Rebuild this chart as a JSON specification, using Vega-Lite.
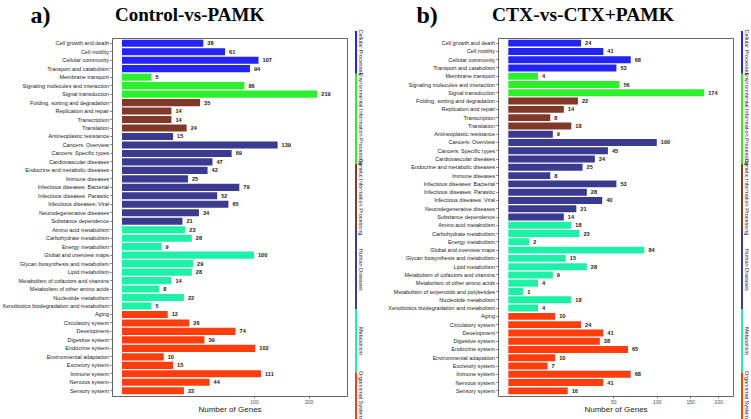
{
  "$schema": "https://vega.github.io/schema/vega-lite/v6.json",
  "background": "white",
  "padding": {"left": 1, "top": 2, "right": 0, "bottom": 0},
  "config": {
    "font": "Liberation Sans",
    "view": {"stroke": "#666666", "strokeWidth": 1},
    "axis": {"grid": false, "domain": false}
  },
  "datasets": {
    "genes": [
      {"panel": "a", "class": "Cellular Processes", "term": "Cell growth and death", "count": 38},
      {"panel": "a", "class": "Cellular Processes", "term": "Cell motility", "count": 61},
      {"panel": "a", "class": "Cellular Processes", "term": "Cellular community", "count": 107},
      {"panel": "a", "class": "Cellular Processes", "term": "Transport and catabolism", "count": 94},
      {"panel": "a", "class": "Environmental Information Processing", "term": "Membrane transport", "count": 5},
      {"panel": "a", "class": "Environmental Information Processing", "term": "Signaling molecules and interaction", "count": 86},
      {"panel": "a", "class": "Environmental Information Processing", "term": "Signal transduction", "count": 219},
      {"panel": "a", "class": "Genetic Information Processing", "term": "Folding, sorting and degradation", "count": 35},
      {"panel": "a", "class": "Genetic Information Processing", "term": "Replication and repair", "count": 14},
      {"panel": "a", "class": "Genetic Information Processing", "term": "Transcription", "count": 14},
      {"panel": "a", "class": "Genetic Information Processing", "term": "Translation", "count": 24},
      {"panel": "a", "class": "Human Diseases", "term": "Antineoplastic resistance", "count": 15},
      {"panel": "a", "class": "Human Diseases", "term": "Cancers: Overview", "count": 139},
      {"panel": "a", "class": "Human Diseases", "term": "Cancers: Specific types", "count": 69},
      {"panel": "a", "class": "Human Diseases", "term": "Cardiovascular diseases", "count": 47},
      {"panel": "a", "class": "Human Diseases", "term": "Endocrine and metabolic diseases", "count": 42},
      {"panel": "a", "class": "Human Diseases", "term": "Immune diseases", "count": 25},
      {"panel": "a", "class": "Human Diseases", "term": "Infectious diseases: Bacterial", "count": 79},
      {"panel": "a", "class": "Human Diseases", "term": "Infectious diseases: Parasitic", "count": 52},
      {"panel": "a", "class": "Human Diseases", "term": "Infectious diseases: Viral", "count": 65},
      {"panel": "a", "class": "Human Diseases", "term": "Neurodegenerative diseases", "count": 34},
      {"panel": "a", "class": "Human Diseases", "term": "Substance dependence", "count": 21},
      {"panel": "a", "class": "Metabolism", "term": "Amino acid metabolism", "count": 23},
      {"panel": "a", "class": "Metabolism", "term": "Carbohydrate metabolism", "count": 28},
      {"panel": "a", "class": "Metabolism", "term": "Energy metabolism", "count": 9},
      {"panel": "a", "class": "Metabolism", "term": "Global and overview maps", "count": 100},
      {"panel": "a", "class": "Metabolism", "term": "Glycan biosynthesis and metabolism", "count": 29},
      {"panel": "a", "class": "Metabolism", "term": "Lipid metabolism", "count": 28},
      {"panel": "a", "class": "Metabolism", "term": "Metabolism of cofactors and vitamins", "count": 14},
      {"panel": "a", "class": "Metabolism", "term": "Metabolism of other amino acids", "count": 8},
      {"panel": "a", "class": "Metabolism", "term": "Nucleotide metabolism", "count": 22},
      {"panel": "a", "class": "Metabolism", "term": "Xenobiotics biodegradation and metabolism", "count": 5},
      {"panel": "a", "class": "Organismal Systems", "term": "Aging", "count": 12},
      {"panel": "a", "class": "Organismal Systems", "term": "Circulatory system", "count": 26},
      {"panel": "a", "class": "Organismal Systems", "term": "Development", "count": 74},
      {"panel": "a", "class": "Organismal Systems", "term": "Digestive system", "count": 39},
      {"panel": "a", "class": "Organismal Systems", "term": "Endocrine system", "count": 102},
      {"panel": "a", "class": "Organismal Systems", "term": "Environmental adaptation", "count": 10},
      {"panel": "a", "class": "Organismal Systems", "term": "Excretory system", "count": 15},
      {"panel": "a", "class": "Organismal Systems", "term": "Immune system", "count": 111},
      {"panel": "a", "class": "Organismal Systems", "term": "Nervous system", "count": 44},
      {"panel": "a", "class": "Organismal Systems", "term": "Sensory system", "count": 22},
      {"panel": "b", "class": "Cellular Processes", "term": "Cell growth and death", "count": 24},
      {"panel": "b", "class": "Cellular Processes", "term": "Cell motility", "count": 41},
      {"panel": "b", "class": "Cellular Processes", "term": "Cellular community", "count": 68},
      {"panel": "b", "class": "Cellular Processes", "term": "Transport and catabolism", "count": 53},
      {"panel": "b", "class": "Environmental Information Processing", "term": "Membrane transport", "count": 4},
      {"panel": "b", "class": "Environmental Information Processing", "term": "Signaling molecules and interaction", "count": 56},
      {"panel": "b", "class": "Environmental Information Processing", "term": "Signal transduction", "count": 174},
      {"panel": "b", "class": "Genetic Information Processing", "term": "Folding, sorting and degradation", "count": 22},
      {"panel": "b", "class": "Genetic Information Processing", "term": "Replication and repair", "count": 14},
      {"panel": "b", "class": "Genetic Information Processing", "term": "Transcription", "count": 8},
      {"panel": "b", "class": "Genetic Information Processing", "term": "Translation", "count": 18},
      {"panel": "b", "class": "Human Diseases", "term": "Antineoplastic resistance", "count": 9},
      {"panel": "b", "class": "Human Diseases", "term": "Cancers: Overview", "count": 100},
      {"panel": "b", "class": "Human Diseases", "term": "Cancers: Specific types", "count": 45},
      {"panel": "b", "class": "Human Diseases", "term": "Cardiovascular diseases", "count": 34},
      {"panel": "b", "class": "Human Diseases", "term": "Endocrine and metabolic diseases", "count": 25},
      {"panel": "b", "class": "Human Diseases", "term": "Immune diseases", "count": 8},
      {"panel": "b", "class": "Human Diseases", "term": "Infectious diseases: Bacterial", "count": 53},
      {"panel": "b", "class": "Human Diseases", "term": "Infectious diseases: Parasitic", "count": 28},
      {"panel": "b", "class": "Human Diseases", "term": "Infectious diseases: Viral", "count": 40},
      {"panel": "b", "class": "Human Diseases", "term": "Neurodegenerative diseases", "count": 21},
      {"panel": "b", "class": "Human Diseases", "term": "Substance dependence", "count": 14},
      {"panel": "b", "class": "Metabolism", "term": "Amino acid metabolism", "count": 18},
      {"panel": "b", "class": "Metabolism", "term": "Carbohydrate metabolism", "count": 23},
      {"panel": "b", "class": "Metabolism", "term": "Energy metabolism", "count": 2},
      {"panel": "b", "class": "Metabolism", "term": "Global and overview maps", "count": 84},
      {"panel": "b", "class": "Metabolism", "term": "Glycan biosynthesis and metabolism", "count": 15},
      {"panel": "b", "class": "Metabolism", "term": "Lipid metabolism", "count": 28},
      {"panel": "b", "class": "Metabolism", "term": "Metabolism of cofactors and vitamins", "count": 9},
      {"panel": "b", "class": "Metabolism", "term": "Metabolism of other amino acids", "count": 4},
      {"panel": "b", "class": "Metabolism", "term": "Metabolism of terpenoids and polyketides", "count": 1},
      {"panel": "b", "class": "Metabolism", "term": "Nucleotide metabolism", "count": 18},
      {"panel": "b", "class": "Metabolism", "term": "Xenobiotics biodegradation and metabolism", "count": 4},
      {"panel": "b", "class": "Organismal Systems", "term": "Aging", "count": 10},
      {"panel": "b", "class": "Organismal Systems", "term": "Circulatory system", "count": 24},
      {"panel": "b", "class": "Organismal Systems", "term": "Development", "count": 41},
      {"panel": "b", "class": "Organismal Systems", "term": "Digestive system", "count": 38},
      {"panel": "b", "class": "Organismal Systems", "term": "Endocrine system", "count": 65},
      {"panel": "b", "class": "Organismal Systems", "term": "Environmental adaptation", "count": 10},
      {"panel": "b", "class": "Organismal Systems", "term": "Excretory system", "count": 7},
      {"panel": "b", "class": "Organismal Systems", "term": "Immune system", "count": 68},
      {"panel": "b", "class": "Organismal Systems", "term": "Nervous system", "count": 41},
      {"panel": "b", "class": "Organismal Systems", "term": "Sensory system", "count": 16}
    ],
    "strip": [
      {"class": "Cellular Processes", "span": 42.7},
      {"class": "Environmental Information Processing", "span": 90.3},
      {"class": "Genetic Information Processing", "span": 66},
      {"class": "Human Diseases", "span": 79.5},
      {"class": "Metabolism", "span": 63},
      {"class": "Organismal Systems", "span": 47.5}
    ]
  },
  "spacing": 24,
  "hconcat": [
    {
      "spacing": 8,
      "bounds": "flush",
      "hconcat": [
        {
          "width": 235,
          "height": 358,
          "title": {"text": "Control-vs-PAMK", "anchor": "start", "frame": "group", "dx": 3, "font": "Liberation Serif", "fontWeight": "bold", "fontSize": 19, "baseline": "alphabetic", "offset": -37, "color": "#000000"},
          "data": {"name": "genes"},
          "transform": [{"filter": {"field": "panel", "equal": "a"}}],
          "encoding": {
            "y": {"field": "term", "type": "nominal", "sort": null,
              "scale": {"paddingInner": 0.16, "paddingOuter": 0.2},
              "axis": {"title": "a)", "titleAngle": 0, "titleX": -82, "titleY": -16, "titleAlign": "left", "titleBaseline": "alphabetic", "titleFont": "Liberation Serif", "titleFontWeight": "bold", "titleFontSize": 24, "titleColor": "#000000",
                "labelFontSize": 5.5, "labelColor": "#1a1a1a", "labelPadding": 1, "tickSize": 2.5, "tickColor": "#444444", "tickWidth": 0.6, "labelLimit": 0}},
            "x": {"field": "count", "type": "quantitative",
              "scale": {"type": "sqrt", "domain": [-0.574, 290.6], "zero": false, "nice": false},
              "axis": {"values": [100, 200], "title": "Number of Genes", "titleFontSize": 8, "titleFontWeight": "normal", "titleColor": "#222222", "titlePadding": 1,
                "labelFontSize": 5, "labelColor": "#4d4d4d", "labelPadding": 1, "tickSize": 2, "tickColor": "#444444", "tickWidth": 0.6}}
          },
          "layer": [
            {"mark": {"type": "bar"},
              "encoding": {"color": {"field": "class", "type": "nominal", "legend": null,
                "scale": {"domain": ["Cellular Processes", "Environmental Information Processing", "Genetic Information Processing", "Human Diseases", "Metabolism", "Organismal Systems"],
                  "range": ["#2323F2", "#2DF02D", "#823828", "#3A3A8F", "#1EF0A8", "#FF3D0D"]}}}},
            {"mark": {"type": "text", "align": "left", "baseline": "middle", "dx": 4, "fontSize": 5.6, "fontWeight": "bold", "color": "#1a1a1a"},
              "encoding": {"text": {"field": "count", "type": "quantitative"}}}
          ]
        },
        {
          "width": 2,
          "height": 358,
          "view": {"stroke": null},
          "data": {"name": "strip"},
          "layer": [
            {"mark": {"type": "bar", "width": 2},
              "encoding": {
                "y": {"field": "span", "type": "quantitative", "stack": "zero", "scale": {"domain": [24, 382], "nice": false, "zero": false}, "axis": null},
                "order": {"field": "class", "sort": "descending"},
                "color": {"field": "class", "type": "nominal", "legend": null,
                  "scale": {"domain": ["Cellular Processes", "Environmental Information Processing", "Genetic Information Processing", "Human Diseases", "Metabolism", "Organismal Systems"],
                    "range": ["#2323F2", "#2DF02D", "#823828", "#3A3A8F", "#1EF0A8", "#FF3D0D"]}}}},
            {"mark": {"type": "text", "angle": 90, "align": "center", "baseline": "bottom", "dy": -2, "fontSize": 5.5, "color": "#222222"},
              "encoding": {
                "y": {"field": "span", "type": "quantitative", "stack": "zero", "bandPosition": 0.5, "axis": null},
                "order": {"field": "class", "sort": "descending"},
                "detail": {"field": "class", "type": "nominal"},
                "text": {"field": "class", "type": "nominal"}}}
          ]
        }
      ]
    },
    {
      "spacing": 8,
      "bounds": "flush",
      "hconcat": [
        {
          "width": 235,
          "height": 358,
          "title": {"text": "CTX-vs-CTX+PAMK", "anchor": "start", "frame": "group", "dx": -6, "font": "Liberation Serif", "fontWeight": "bold", "fontSize": 19.5, "baseline": "alphabetic", "offset": -37, "color": "#000000"},
          "data": {"name": "genes"},
          "transform": [{"filter": {"field": "panel", "equal": "b"}}],
          "encoding": {
            "y": {"field": "term", "type": "nominal", "sort": null,
              "scale": {"paddingInner": 0.16, "paddingOuter": 0.2},
              "axis": {"title": "b)", "titleAngle": 0, "titleX": -82, "titleY": -16, "titleAlign": "left", "titleBaseline": "alphabetic", "titleFont": "Liberation Serif", "titleFontWeight": "bold", "titleFontSize": 24, "titleColor": "#000000",
                "labelFontSize": 5.5, "labelColor": "#1a1a1a", "labelPadding": 1, "tickSize": 2.5, "tickColor": "#444444", "tickWidth": 0.6, "labelLimit": 0}},
            "x": {"field": "count", "type": "quantitative",
              "scale": {"type": "sqrt", "domain": [-0.48, 229], "zero": false, "nice": false},
              "axis": {"values": [50, 100, 150, 200], "title": "Number of Genes", "titleFontSize": 8, "titleFontWeight": "normal", "titleColor": "#222222", "titlePadding": 1,
                "labelFontSize": 5, "labelColor": "#4d4d4d", "labelPadding": 1, "tickSize": 2, "tickColor": "#444444", "tickWidth": 0.6}}
          },
          "layer": [
            {"mark": {"type": "bar"},
              "encoding": {"color": {"field": "class", "type": "nominal", "legend": null,
                "scale": {"domain": ["Cellular Processes", "Environmental Information Processing", "Genetic Information Processing", "Human Diseases", "Metabolism", "Organismal Systems"],
                  "range": ["#2323F2", "#2DF02D", "#823828", "#3A3A8F", "#1EF0A8", "#FF3D0D"]}}}},
            {"mark": {"type": "text", "align": "left", "baseline": "middle", "dx": 4, "fontSize": 5.6, "fontWeight": "bold", "color": "#1a1a1a"},
              "encoding": {"text": {"field": "count", "type": "quantitative"}}}
          ]
        },
        {
          "width": 2,
          "height": 358,
          "view": {"stroke": null},
          "data": {"name": "strip"},
          "layer": [
            {"mark": {"type": "bar", "width": 2},
              "encoding": {
                "y": {"field": "span", "type": "quantitative", "stack": "zero", "scale": {"domain": [24, 382], "nice": false, "zero": false}, "axis": null},
                "order": {"field": "class", "sort": "descending"},
                "color": {"field": "class", "type": "nominal", "legend": null,
                  "scale": {"domain": ["Cellular Processes", "Environmental Information Processing", "Genetic Information Processing", "Human Diseases", "Metabolism", "Organismal Systems"],
                    "range": ["#2323F2", "#2DF02D", "#823828", "#3A3A8F", "#1EF0A8", "#FF3D0D"]}}}},
            {"mark": {"type": "text", "angle": 90, "align": "center", "baseline": "bottom", "dy": -2, "fontSize": 5.5, "color": "#222222"},
              "encoding": {
                "y": {"field": "span", "type": "quantitative", "stack": "zero", "bandPosition": 0.5, "axis": null},
                "order": {"field": "class", "sort": "descending"},
                "detail": {"field": "class", "type": "nominal"},
                "text": {"field": "class", "type": "nominal"}}}
          ]
        }
      ]
    }
  ]
}
